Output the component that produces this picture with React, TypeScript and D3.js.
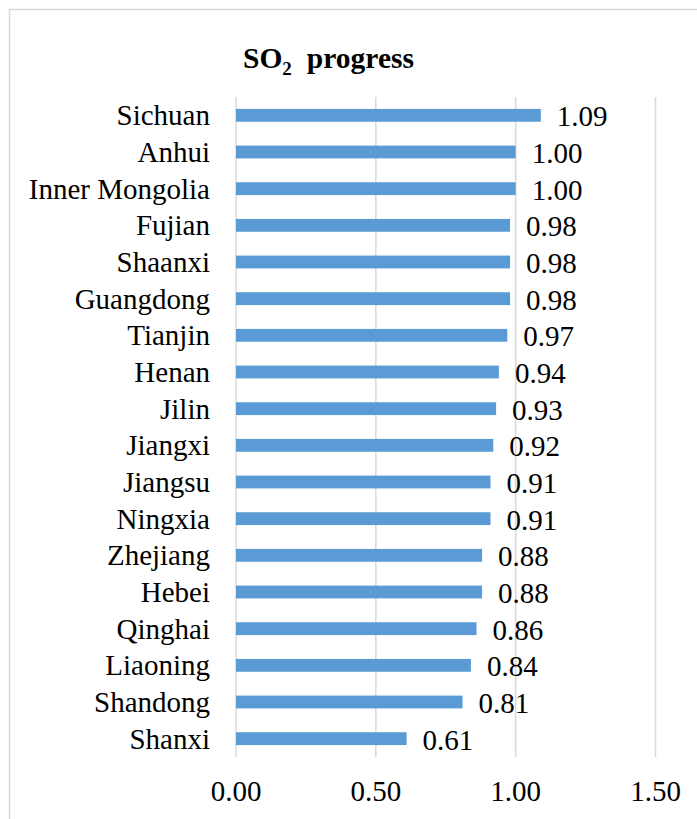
import React from "react";
import * as d3 from "d3";

const categories = [
  "Sichuan", "Anhui", "Inner Mongolia", "Fujian", "Shaanxi", "Guangdong",
  "Tianjin", "Henan", "Jilin", "Jiangxi", "Jiangsu", "Ningxia",
  "Zhejiang", "Hebei", "Qinghai", "Liaoning", "Shandong", "Shanxi",
];
const values = [
  1.09, 1.0, 1.0, 0.98, 0.98, 0.98,
  0.97, 0.94, 0.93, 0.92, 0.91, 0.91,
  0.88, 0.88, 0.86, 0.84, 0.81, 0.61,
];
const xTicks = [0, 0.5, 1.0, 1.5];
const titleMain = "SO";
const titleSub = "2";
const titleRest = "progress";

const W = 697;
const H = 819;
const FONT = "'Liberation Serif', 'Times New Roman', serif";
const FS = 29;

export default function App() {
  const x = d3.scaleLinear().domain([0, 1.5]).range([236, 655.5]);
  const y = d3
    .scaleBand<string>()
    .domain(categories)
    .range([97, 757])
    .paddingInner(0.65)
    .paddingOuter(0.325);
  const bw = y.bandwidth();
  const ts = { fontFamily: FONT };

  return (
    <svg
      width={W}
      height={H}
      style={{ position: "absolute", left: 0, top: 0, background: "#fff" }}
    >
      <rect x={9.5} y={9.5} width={W + 10} height={H + 10} fill="#fff" stroke="#d9d9d9" strokeWidth={1.5} />
      <text x={243} y={68} fontSize={29.5} fontWeight="bold" fill="#000" style={ts}>
        <tspan>{titleMain}</tspan>
        <tspan fontSize={19} dy={7}>{titleSub}</tspan>
        <tspan dy={-7} dx={15}>{titleRest}</tspan>
      </text>
      {xTicks.map((t) => (
        <line key={"g" + t} x1={x(t)} x2={x(t)} y1={97} y2={757} stroke="#d9d9d9" strokeWidth={1.5} />
      ))}
      {categories.map((c, i) => (
        <g key={c}>
          <rect x={x(0)} y={y(c)!} width={x(values[i]) - x(0)} height={bw} fill="#5B9BD5" />
          <text
            x={210}
            y={y(c)! + bw / 2}
            dy="0.34em"
            textAnchor="end"
            fontSize={FS}
            fill="#000"
            style={ts}
          >
            {c}
          </text>
          <text
            x={x(values[i]) + 16}
            y={y(c)! + bw / 2}
            dy="0.38em"
            fontSize={FS}
            fill="#000"
            style={ts}
          >
            {values[i].toFixed(2)}
          </text>
        </g>
      ))}
      {xTicks.map((t) => (
        <text key={"t" + t} x={x(t)} y={801} textAnchor="middle" fontSize={FS} fill="#000" style={ts}>
          {t.toFixed(2)}
        </text>
      ))}
    </svg>
  );
}
